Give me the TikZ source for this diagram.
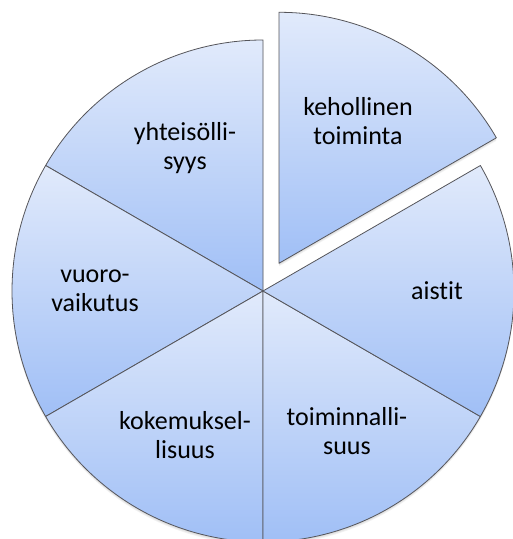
\documentclass[tikz,border=0pt]{standalone}
\usepackage{fontspec}
\setmainfont{Carlito}[Ligatures={NoCommon}]
\usetikzlibrary{calc}
\definecolor{sliceTop}{RGB}{225,234,251}
\definecolor{sliceBot}{RGB}{160,191,246}
\definecolor{sliceEdge}{RGB}{85,85,90}
\begin{document}
\begin{tikzpicture}[x=1pt,y=1pt,
  slice/.style={draw=sliceEdge, line width=0.8pt, line join=round,
    top color=sliceTop, bottom color=sliceBot, shading=axis},
  shadowpath/.style={fill=black, opacity=0.05},
  label/.style={align=center, font=\fontsize{26}{29}\selectfont, text=black, inner sep=0pt}]
  \useasboundingbox (0,0) rectangle (513,539);
  \def\R{251}
  \coordinate (C) at (263,248);
  \coordinate (E) at ($(C)+(60:32)$);

  % soft shadow under the pie and under the pulled-out slice
  \foreach \d in {1,2,3}{
    \fill[shadowpath] ($(C)+(0,-\d)$) -- +(90:\R) arc[start angle=90,end angle=390,radius=\R] -- cycle;
    \fill[shadowpath] ($(E)+(0,-\d)$) -- +(30:\R) arc[start angle=30,end angle=90,radius=\R] -- cycle;
  }

  % the five slices in place
  \draw[slice] (C) -- +(90:\R) arc[start angle=90,end angle=150,radius=\R] -- cycle;
  \draw[slice] (C) -- +(150:\R) arc[start angle=150,end angle=210,radius=\R] -- cycle;
  \draw[slice] (C) -- +(210:\R) arc[start angle=210,end angle=270,radius=\R] -- cycle;
  \draw[slice] (C) -- +(270:\R) arc[start angle=270,end angle=330,radius=\R] -- cycle;
  \draw[slice] (C) -- +(-30:\R) arc[start angle=-30,end angle=30,radius=\R] -- cycle;
  % the pulled-out slice
  \draw[slice] (E) -- +(30:\R) arc[start angle=30,end angle=90,radius=\R] -- cycle;

  % labels
  \node[label] (keh) at (358,418) {kehollinen\\toiminta};
  \node[label] (ais) at (437,248) {aistit};
  \node[label] (tmi) at (347,108) {toiminnalli-\\suus};
  \node[label] (kok) at (185,104) {kokemuksel-\\lisuus};
  \node[label] (vuo) at (95,248) {vuoro-\\vaikutus};
  \node[label] (yht) at (185,391) {yhteisölli-\\syys};
\end{tikzpicture}
\end{document}
